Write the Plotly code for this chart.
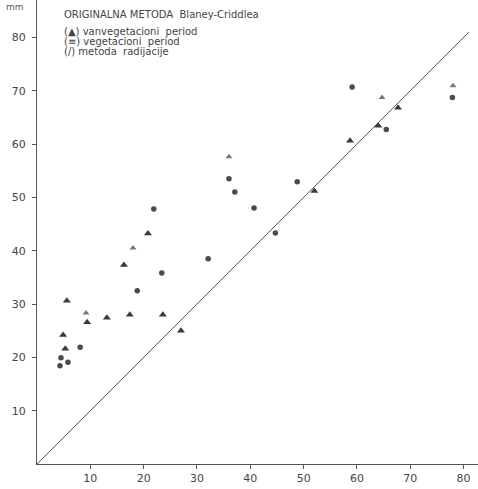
import plotly.graph_objects as go

# vanvegetacioni period (filled triangles)
van_x = [5.6, 4.9, 5.3, 9.4, 13.1, 17.4, 16.3, 20.8, 23.6, 27.0, 52.0, 64.0, 67.7, 58.7]
van_y = [30.6, 24.2, 21.6, 26.6, 27.4, 28.0, 37.3, 43.2, 28.0, 25.0, 51.2, 63.4, 66.8, 60.6]

# vegetacioni period
veg_x = [4.5, 4.3, 5.8, 8.1, 18.8, 21.9, 23.4, 32.1, 36.0, 37.1, 40.7, 44.7, 48.8, 59.1, 65.5, 77.9]
veg_y = [19.9, 18.4, 19.1, 21.9, 32.5, 47.8, 35.8, 38.5, 53.5, 51.0, 48.0, 43.3, 52.9, 70.7, 62.7, 68.7]

# metoda radijacije
rad_x = [9.2, 18.0, 36.0, 64.7, 78.0]
rad_y = [28.3, 40.5, 57.6, 68.7, 70.9]

# 1:1 line
line_x = [0, 81]
line_y = [0, 81]

tick_vals = [10, 20, 30, 40, 50, 60, 70, 80]
tick_text = ["10", "20", "30", "40", "50", "60", "70", "80"]

legend_lines = [
    "ORIGINALNA METODA  Blaney-Criddlea",
    "(▲) vanvegetacioni  period",
    "(≡) vegetacioni  period",
    "(/) metoda  radijacije",
]
legend_y = [0.968, 0.932, 0.910, 0.889]

ink = "#3a3a3a"
fig = go.Figure()
fig.add_trace(go.Scatter(x=line_x, y=line_y, mode="lines",
                         line=dict(color="#555555", width=1), hoverinfo="skip"))
fig.add_trace(go.Scatter(x=van_x, y=van_y, mode="markers",
                         marker=dict(symbol="triangle-up", size=7, color=ink)))
fig.add_trace(go.Scatter(x=veg_x, y=veg_y, mode="markers",
                         marker=dict(symbol="circle", size=5.5, color="#4a4a4a")))
fig.add_trace(go.Scatter(x=rad_x, y=rad_y, mode="markers",
                         marker=dict(symbol="triangle-up", size=6, color="#777777")))

axis_common = dict(
    showgrid=False, zeroline=False, showline=True, linecolor="#555555", linewidth=1,
    ticks="outside", ticklen=4, tickcolor="#555555",
    tickfont=dict(family="DejaVu Sans", size=11, color="#444444"),
    tickvals=tick_vals, ticktext=tick_text,
)
fig.update_xaxes(range=[0, 82.7], **axis_common)
fig.update_yaxes(range=[0, 87], ticklabelstandoff=4, **axis_common)

annotations = [dict(x=-0.05, y=1.0, xref="paper", yref="paper", text="mm", showarrow=False,
                    xanchor="center", yanchor="top",
                    font=dict(family="DejaVu Sans", size=9, color="#555555"))]
for t, yy in zip(legend_lines, legend_y):
    annotations.append(dict(x=0.057, y=yy, xref="paper", yref="paper",
                            text=t, showarrow=False, xanchor="left", yanchor="middle",
                            font=dict(family="DejaVu Sans", size=10, color="#444444")))

fig.update_layout(
    width=478, height=489,
    margin=dict(l=37, r=0, t=0, b=25),
    plot_bgcolor="white", paper_bgcolor="white",
    showlegend=False,
    annotations=annotations,
)

fig.write_html("out.html")
